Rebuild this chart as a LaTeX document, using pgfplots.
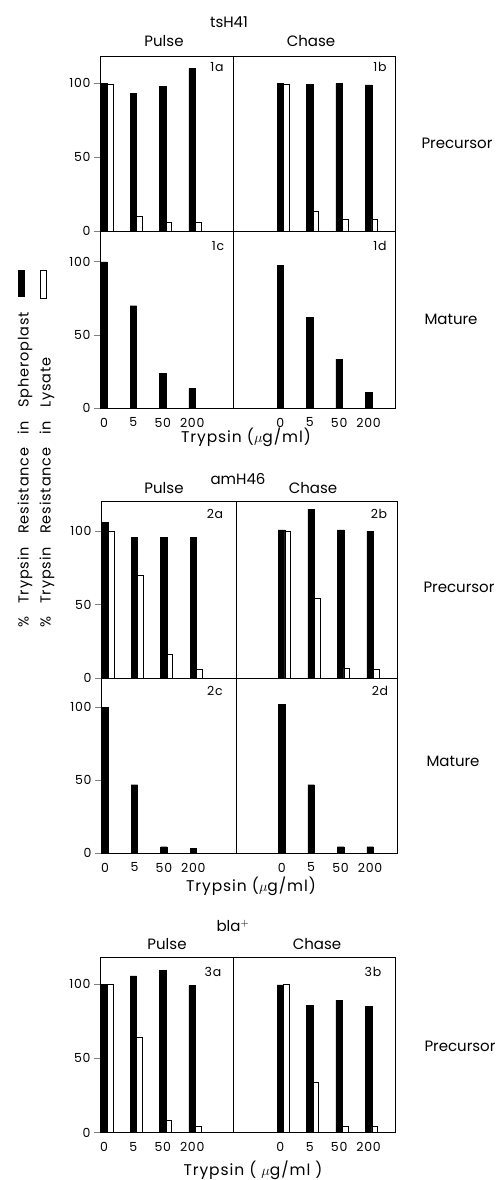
\documentclass[border=0pt]{standalone}
\usepackage{fontspec}
\setmainfont{Poppins}
\newfontfamily\wide[LetterSpace=6]{Poppins}
\usepackage{pgfplots}
\pgfplotsset{compat=1.18}

\newcommand{\lab}{\fontsize{15}{17}\selectfont}
\newcommand{\xl}{\wide\fontsize{15.5}{17}\selectfont}
\newcommand{\tk}{\wide\fontsize{12.5}{14}\selectfont}
\newcommand{\yl}{\wide\fontsize{14.5}{16}\selectfont}

\pgfplotsset{
  panel/.style={
    scale only axis, width=295.5pt,
    xmin=-0.136, xmax=9.915, ymin=0,
    axis line style={line width=0.7pt},
    ytick={0,50,100},
    xtick={0,1,2,3,6,7,8,9},
    xticklabels={0,5,50,200,0,5,50,200},
    x tick style={draw=none},
    y tick style={line width=0.7pt},
    tick align=outside, major tick length=6pt,
    ytick pos=left,
    tick label style={font=\tk},
    /pgf/number format/assume math mode=true,
  },
  nox/.style={xmajorticks=false},
  sp/.style={ybar, bar width=0.22, bar shift=0, fill=black, draw=black, line width=0.4pt},
  ly/.style={ybar, bar width=0.19, bar shift=0.205, fill=white, draw=black, line width=0.6pt},
}

\begin{document}
\begin{tikzpicture}
\useasboundingbox (0,0) rectangle (497pt,-1180pt);

% ---- tsH41 ----
\node[font=\lab] at (229pt,-22pt) {tsH41};
\node[font=\lab] at (164pt,-41pt) {Pulse};
\node[font=\lab] at (311pt,-41pt) {Chase};

\begin{axis}[panel, nox, at={(100pt,-231pt)}, anchor=south west,
  height=175pt, ymax=118.5]
\addplot[sp] coordinates {(0,100) (1,93) (2,98) (3,110) (6,100) (7,99.5) (8,100) (9,99)};
\addplot[ly] coordinates {(0,99.5) (1,10) (2,6) (3,6) (6,99) (7,13.5) (8,8) (9,8)};
\draw[line width=0.7pt] (axis cs:4.39,0) -- (axis cs:4.39,118.5);
\end{axis}

\begin{axis}[panel, at={(100pt,-408.3pt)}, anchor=south west,
  height=177.3pt, ymax=121]
\addplot[sp] coordinates {(0,100) (1,70) (2,24) (3,13.5) (6,97.5) (7,62) (8,33.5) (9,11)};
\draw[line width=0.7pt] (axis cs:4.39,0) -- (axis cs:4.39,121);
\end{axis}

\node[font=\tk] at (217pt,-67pt) {1a};
\node[font=\tk] at (380pt,-67pt) {1b};
\node[font=\tk] at (218pt,-246pt) {1c};
\node[font=\tk] at (380pt,-246pt) {1d};
\node[font=\lab, anchor=west] at (418pt,-143pt) {Precursor};
\node[font=\lab, anchor=west] at (421pt,-319pt) {Mature};
\node[font=\xl] at (246pt,-437pt) {Trypsin ($\mu$g/ml)};

% y label with swatches
\fill (18pt,-270pt) rectangle (25pt,-297pt);
\draw[line width=0.6pt] (40.5pt,-270pt) rectangle (46.5pt,-298pt);
\node[font=\yl, rotate=90, anchor=west, inner sep=0pt] at (25pt,-628pt) {\spaceskip=13pt\% Trypsin Resistance in Spheroplast};
\node[font=\yl, rotate=90, anchor=west, inner sep=0pt] at (47pt,-628pt) {\spaceskip=13pt\% Trypsin Resistance in Lysate};

% ---- amH46 ----
\node[font=\lab] at (238pt,-479pt) {amH46};
\node[font=\lab] at (164pt,-488pt) {Pulse};
\node[font=\lab] at (313pt,-488pt) {Chase};

\begin{axis}[panel, nox, at={(101pt,-678.3pt)}, anchor=south west,
  width=296pt, height=177.3pt, ymax=120.6]
\addplot[sp] coordinates {(0,106) (1,96) (2,96) (3,96) (6,101) (7,115) (8,101) (9,100)};
\addplot[ly] coordinates {(0,100) (1,70) (2,16) (3,6) (6,100) (7,54.5) (8,7) (9,6)};
\draw[line width=0.7pt] (axis cs:4.45,0) -- (axis cs:4.45,120.6);
\end{axis}

\begin{axis}[panel, at={(101pt,-853.3pt)}, anchor=south west,
  width=296pt, height=175pt, ymax=119.9]
\addplot[sp] coordinates {(0,100) (1,47) (2,4.5) (3,3.5) (6,102) (7,47) (8,4.5) (9,4.5)};
\draw[line width=0.7pt] (axis cs:4.45,0) -- (axis cs:4.45,119.9);
\end{axis}

\node[font=\tk] at (215pt,-514pt) {2a};
\node[font=\tk] at (379pt,-514pt) {2b};
\node[font=\tk] at (215pt,-691pt) {2c};
\node[font=\tk] at (380pt,-691pt) {2d};
\node[font=\lab, anchor=west] at (420pt,-587pt) {Precursor};
\node[font=\lab, anchor=west] at (423pt,-761pt) {Mature};
\node[font=\xl] at (251pt,-886pt) {Trypsin ($\mu$g/ml)};

% ---- bla+ ----
\node[font=\lab] at (233pt,-926pt) {bla$^{+}$};
\node[font=\lab] at (167pt,-944pt) {Pulse};
\node[font=\lab] at (317pt,-944pt) {Chase};

\begin{axis}[panel, at={(100pt,-1132.7pt)}, anchor=south west,
  height=175.7pt, ymax=118.2]
\addplot[sp] coordinates {(0,100) (1,105.5) (2,109) (3,99) (6,99.5) (7,85.5) (8,89) (9,85)};
\addplot[ly] coordinates {(0,100) (1,64.5) (2,8.5) (3,4) (6,100) (7,34) (8,4) (9,4)};
\draw[line width=0.7pt] (axis cs:4.40,0) -- (axis cs:4.40,118.2);
\end{axis}

\node[font=\tk] at (213pt,-972pt) {3a};
\node[font=\tk] at (373pt,-972pt) {3b};
\node[font=\lab, anchor=west] at (421pt,-1046pt) {Precursor};
\node[font=\xl] at (253pt,-1170pt) {Trypsin ( $\mu$g/ml )};
\end{tikzpicture}
\end{document}
